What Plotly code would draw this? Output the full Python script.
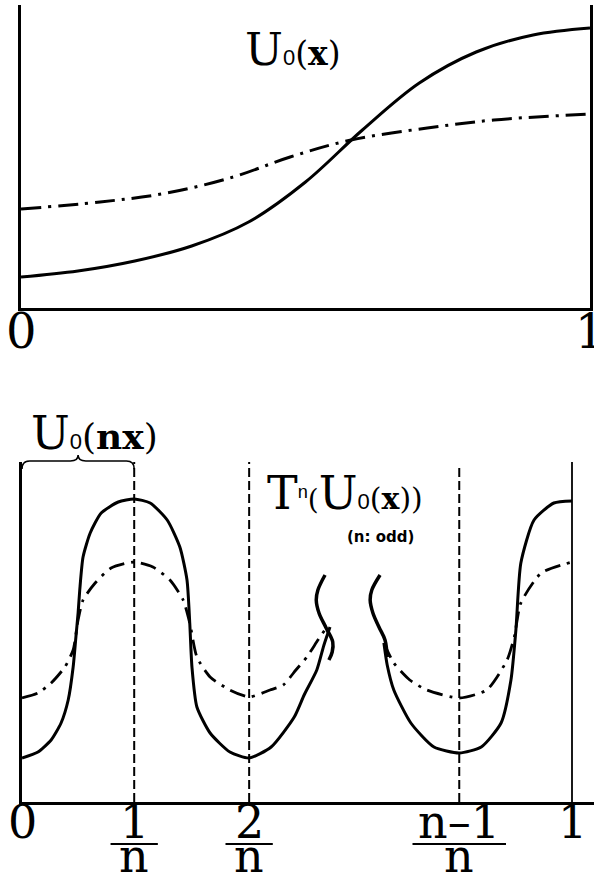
import plotly.graph_objects as go

W, H = 594, 875
SERIF = "DejaVu Serif"

# ---------------- data: top panel  U0(x) ----------------
top_x = [0, 0.1, 0.2, 0.3, 0.4, 0.5, 0.6, 0.7, 0.8, 0.9, 1.0]
top_solid = [31, 37, 47, 62, 86, 126, 178, 225, 256, 273, 280]
top_dd_x = [0, 0.139, 0.257, 0.373, 0.473, 0.58, 0.714, 0.831, 1.0]
top_dd = [99, 106, 115, 131, 151, 168, 180, 188, 194]
top_ticks = [0, 1]
top_ticktext = ["0", "1"]

# ---------------- data: bottom panel  T^n(U0(x)) ----------------
# left block (0 .. break)
bl_solid_x = [0, 0.029, 0.053, 0.071, 0.084, 0.093, 0.098, 0.102, 0.105, 0.111,
              0.124, 0.144, 0.175, 0.204, 0.233, 0.264, 0.287, 0.300, 0.305,
              0.309, 0.318, 0.342, 0.378, 0.413, 0.453, 0.495, 0.513, 0.536,
              0.549, 0.560]
bl_solid_y = [44, 50, 62, 79, 102, 135, 165, 189, 212, 245,
              269, 289, 300, 303, 299, 282, 255, 222, 179,
              135, 95, 69, 50, 44, 55, 85, 107, 132,
              157, 175]
bl_dd_x = [0, 0.029, 0.053, 0.078, 0.093, 0.102, 0.111, 0.133, 0.162, 0.204,
           0.238, 0.269, 0.293, 0.305, 0.318, 0.342, 0.378, 0.413, 0.451,
           0.475, 0.498, 0.518, 0.538, 0.553]
bl_dd_y = [104, 109, 119, 135, 152, 182, 202, 219, 234, 240,
           235, 222, 202, 179, 145, 125, 112, 105, 112,
           117, 132, 145, 162, 174]
# right block (break .. 1)
br_solid_x = [0.658, 0.664, 0.676, 0.707, 0.749, 0.795, 0.835, 0.871, 0.889,
              0.898, 0.907, 0.931, 0.967, 1.0]
br_solid_y = [159, 137, 112, 79, 55, 49, 55, 79, 122,
              172, 239, 282, 299, 301]
br_dd_x = [0.658, 0.676, 0.705, 0.736, 0.795, 0.845, 0.882, 0.895, 0.907,
           0.944, 1.0]
br_dd_y = [159, 139, 122, 112, 104, 112, 142, 165, 199,
           229, 240]
# axis break marks
brk1_x = [0.551, 0.538, 0.535, 0.540, 0.553, 0.565, 0.564, 0.558]
brk1_y = [227, 212, 202, 189, 174, 160, 150, 142]
brk2_x = [0.651, 0.636, 0.633, 0.638, 0.649, 0.660, 0.664]
brk2_y = [227, 212, 202, 189, 175, 162, 145]

bot_ticks = [0, 0.204, 0.413, 0.795, 1.0]
bot_numer = ["0", "1", "2", "n\u20131", "1"]
bot_denom = ["", "n", "n", "n", ""]
dashed_ticks = [0.204, 0.413, 0.795]
dashed_top = [340, 340, 334]


def py(p):
    return 1 - p / H


def px(p):
    return p / W


fig = go.Figure()

# top panel curves
fig.add_trace(go.Scatter(x=top_x, y=top_solid, mode="lines",
                         line=dict(color="black", width=3, shape="spline", smoothing=1),
                         xaxis="x", yaxis="y", showlegend=False, hoverinfo="skip"))
fig.add_trace(go.Scatter(x=top_dd_x, y=top_dd, mode="lines",
                         line=dict(color="black", width=3, shape="spline", smoothing=1,
                                   dash="20px,7px,3px,7px"),
                         xaxis="x", yaxis="y", showlegend=False, hoverinfo="skip"))

# bottom panel dashed guide lines
for xv, yt in zip(dashed_ticks, dashed_top):
    fig.add_trace(go.Scatter(x=[xv, xv], y=[0, yt], mode="lines",
                             line=dict(color="black", width=2, dash="9px,4px"),
                             xaxis="x2", yaxis="y2", showlegend=False, hoverinfo="skip"))
# right boundary at x=1
fig.add_trace(go.Scatter(x=[1, 1], y=[0, 340], mode="lines",
                         line=dict(color="black", width=1.8),
                         xaxis="x2", yaxis="y2", showlegend=False, hoverinfo="skip"))

for xs, ys in [(bl_solid_x, bl_solid_y), (br_solid_x, br_solid_y)]:
    fig.add_trace(go.Scatter(x=xs, y=ys, mode="lines",
                             line=dict(color="black", width=3, shape="spline", smoothing=0.6),
                             xaxis="x2", yaxis="y2", showlegend=False, hoverinfo="skip"))
for xs, ys in [(bl_dd_x, bl_dd_y), (br_dd_x, br_dd_y)]:
    fig.add_trace(go.Scatter(x=xs, y=ys, mode="lines",
                             line=dict(color="black", width=2.8, shape="spline", smoothing=0.6,
                                       dash="16px,7px,3px,7px"),
                             xaxis="x2", yaxis="y2", showlegend=False, hoverinfo="skip"))
for xs, ys in [(brk1_x, brk1_y), (brk2_x, brk2_y)]:
    fig.add_trace(go.Scatter(x=xs, y=ys, mode="lines",
                             line=dict(color="black", width=3.5, shape="spline", smoothing=1),
                             xaxis="x2", yaxis="y2", showlegend=False, hoverinfo="skip"))

shapes = []
annotations = []

# top tick labels
for xv, txt in zip(top_ticks, top_ticktext):
    annotations.append(dict(xref="x", yref="paper", x=xv, y=py(331),
                            text=txt, showarrow=False, xanchor="center", yanchor="middle",
                            font=dict(family=SERIF, size=48, color="black")))

# bottom tick labels: numerators, fraction bars and denominators
for xv, num, den in zip(bot_ticks, bot_numer, bot_denom):
    annotations.append(dict(xref="x2", yref="paper", x=xv, y=py(822),
                            text=num, showarrow=False, xanchor="center", yanchor="middle",
                            font=dict(family=SERIF, size=46, color="black")))
    if not den:
        continue
    half = 0.043 if len(num) == 1 else 0.085
    shapes.append(dict(type="line", xref="x2", yref="paper",
                       x0=xv - half, x1=xv + half, y0=py(844), y1=py(844),
                       line=dict(color="black", width=2)))
    annotations.append(dict(xref="x2", yref="paper", x=xv, y=py(856),
                            text=den, showarrow=False, xanchor="center", yanchor="middle",
                            font=dict(family=SERIF, size=46, color="black")))

# curly brace over first period
xa, xb = bot_ticks[0], bot_ticks[1]
xm = (xa + xb) / 2
d = 0.014
yl, ym, yt = py(469), py(461), py(455)
brace = (f"M {xa},{yl} Q {xa},{ym} {xa + d},{ym} L {xm - d},{ym} "
         f"Q {xm},{ym} {xm},{yt} Q {xm},{ym} {xm + d},{ym} "
         f"L {xb - d},{ym} Q {xb},{ym} {xb},{yl}")
shapes.append(dict(type="path", xref="x2", yref="paper", path=brace,
                   line=dict(color="black", width=1.6)))

# labels
annotations.append(dict(xref="paper", yref="paper", x=px(243), y=py(49),
                        xanchor="left", yanchor="middle", showarrow=False,
                        text="U<span style='font-size:22px;font-family:Liberation Sans'>0</span>"
                             "<span style='font-size:33px'>(<b>x</b>)</span>",
                        font=dict(family=SERIF, size=45, color="black")))
annotations.append(dict(xref="paper", yref="paper", x=px(29), y=py(433),
                        xanchor="left", yanchor="middle", showarrow=False,
                        text="U<span style='font-size:22px;font-family:Liberation Sans'>0</span>"
                             "<span style='font-size:36px'>(<b>nx</b>)</span>",
                        font=dict(family=SERIF, size=46, color="black")))
annotations.append(dict(xref="paper", yref="paper", x=px(265), y=py(493),
                        xanchor="left", yanchor="middle", showarrow=False,
                        text="T<span style='font-size:26px;font-family:Liberation Sans'><sup>n</sup></span>"
                             "<span style='font-size:28px'>(</span>U"
                             "<span style='font-size:22px;font-family:Liberation Sans'>0</span>"
                             "<span style='font-size:30px'>(<b>x</b>))</span>",
                        font=dict(family=SERIF, size=46, color="black")))
annotations.append(dict(xref="paper", yref="paper", x=px(380), y=py(537),
                        xanchor="center", yanchor="middle", showarrow=False,
                        text="<b>(n: odd)</b>",
                        font=dict(family="DejaVu Sans", size=15, color="black")))

axis_common = dict(showgrid=False, zeroline=False, linecolor="black", fixedrange=True,
                   automargin=False, showticklabels=False, ticks="")

fig.update_layout(
    width=W, height=H,
    margin=dict(l=0, r=0, t=0, b=0, pad=0, autoexpand=False),
    paper_bgcolor="white", plot_bgcolor="white",
    showlegend=False,
    xaxis=dict(domain=[px(21), px(590)], range=[0, 1], anchor="y",
               showline=True, linewidth=2.5, **axis_common),
    yaxis=dict(domain=[py(308), py(5)], range=[0, 303], anchor="x",
               showline=True, mirror=True, linewidth=2.5, **axis_common),
    xaxis2=dict(domain=[px(22), 1], range=[0, 1.04], anchor="y2",
                showline=True, linewidth=2.5, **axis_common),
    yaxis2=dict(domain=[py(802), py(462)], range=[0, 340], anchor="x2",
                showline=True, linewidth=2.5, **axis_common),
    shapes=shapes,
    annotations=annotations,
)

fig.write_html("out.html")
